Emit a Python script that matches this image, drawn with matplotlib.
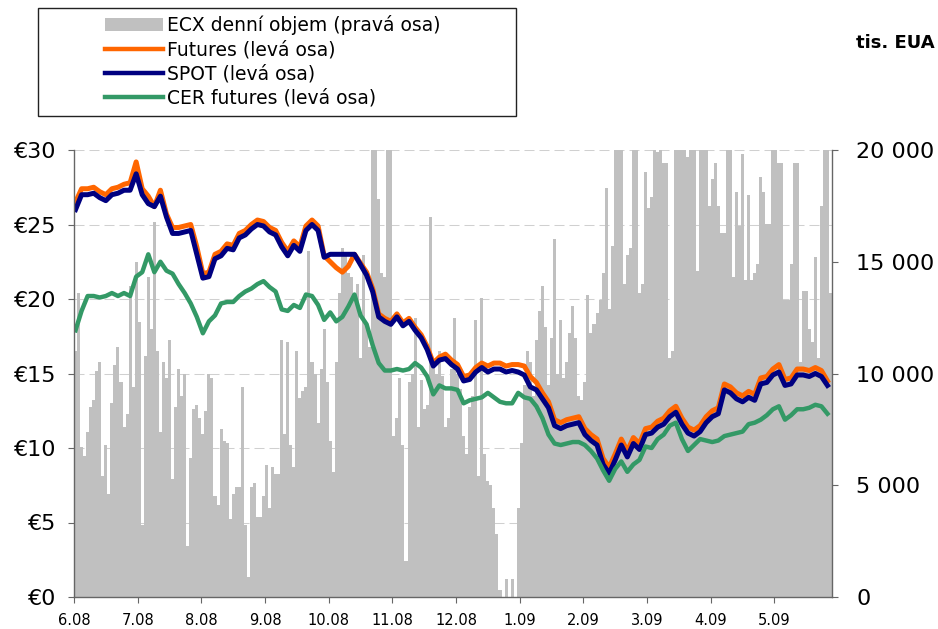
import numpy as np
import matplotlib
matplotlib.use("Agg")
import matplotlib.pyplot as plt
from matplotlib.lines import Line2D
from matplotlib.patches import Patch, Rectangle
from matplotlib.ticker import FuncFormatter

plt.rcParams['font.family'] = ['DejaVu Sans']

# month labels on the category axis (one tick every 21 trading days)
months = ['6.08', '7.08', '8.08', '9.08', '10.08', '11.08', '12.08',
          '1.09', '2.09', '3.09', '4.09', '5.09']

# ECX daily volume, thousands of EUA (right axis), one value per trading day
volume = [11.0, 13.6, 6.7, 6.3, 7.4, 8.5, 8.8, 10.1, 10.5, 5.4,
          6.8, 4.6, 8.7, 10.4, 11.2, 9.6, 7.6, 8.2, 13.9, 9.4,
          15.0, 12.3, 3.2, 10.8, 14.3, 12.0, 16.8, 11.0, 7.4, 10.5,
          9.8, 11.5, 5.3, 8.5, 10.2, 9.0, 10.0, 2.3, 6.2, 8.4,
          8.6, 8.0, 7.3, 8.3, 10.0, 9.8, 4.5, 4.1, 7.5, 7.0,
          6.9, 3.5, 4.6, 4.9, 4.9, 9.4, 3.2, 0.9, 4.9, 5.1,
          3.6, 3.6, 4.5, 5.9, 4.0, 5.8, 5.5, 5.5, 11.5, 7.3,
          11.4, 6.8, 5.8, 11.0, 8.9, 9.2, 9.4, 15.5, 10.5, 10.0,
          7.8, 10.2, 12.0, 9.6, 7.0, 5.6, 10.5, 13.6, 15.6, 15.4,
          14.5, 14.3, 13.6, 14.0, 10.7, 15.3, 12.2, 11.2, 21.0, 21.0,
          17.8, 14.5, 14.3, 21.0, 21.0, 7.2, 8.0, 9.8, 6.8, 1.6,
          9.6, 10.0, 12.5, 7.6, 9.7, 8.4, 8.6, 17.0, 10.5, 10.0,
          11.0, 9.9, 7.6, 8.0, 10.2, 12.5, 10.0, 9.3, 7.2, 6.4,
          8.5, 9.0, 12.4, 5.4, 13.4, 6.4, 5.2, 5.0, 4.0, 2.8,
          0.3, 0.0, 0.8, 0.0, 0.8, 0.0, 4.0, 6.9, 9.5, 11.0,
          10.5, 9.0, 11.5, 12.8, 13.9, 12.1, 9.5, 11.6, 16.0, 10.0,
          12.4, 9.8, 10.5, 11.8, 13.0, 11.6, 9.0, 8.8, 9.6, 13.5,
          11.8, 12.2, 12.7, 13.3, 14.5, 18.3, 12.9, 15.7, 21.0, 21.0,
          21.0, 14.0, 15.3, 15.6, 21.0, 21.0, 13.6, 14.0, 19.0, 17.4,
          17.9, 21.0, 19.9, 21.0, 19.4, 19.4, 10.7, 11.0, 21.0, 21.0,
          21.0, 21.0, 19.7, 21.0, 21.0, 14.6, 21.0, 21.0, 21.0, 17.5,
          18.7, 19.4, 17.5, 16.3, 16.3, 21.0, 21.0, 14.3, 18.1, 16.6,
          19.8, 14.2, 18.0, 14.2, 14.5, 14.9, 18.8, 18.1, 16.7, 16.7,
          21.0, 21.0, 19.4, 19.4, 13.3, 13.3, 14.9, 19.4, 19.4, 10.5,
          13.7, 13.7, 12.0, 11.4, 15.2, 10.7, 17.5, 21.0, 21.0, 13.6]

# prices in EUR (left axis), every second trading day
futures = [26.5, 27.4, 27.4, 27.5, 27.2, 27.0, 27.4, 27.5, 27.7, 27.8,
           29.2, 27.4, 26.9, 26.2, 27.3, 25.7, 24.8, 24.8, 24.9, 25.0,
           23.5, 21.7, 21.8, 23.0, 23.2, 23.7, 23.6, 24.4, 24.6, 25.0,
           25.3, 25.2, 24.8, 24.6, 23.8, 23.2, 23.9, 23.5, 24.9, 25.3,
           24.9, 22.9, 22.5, 22.1, 21.8, 22.2, 23.0, 22.4, 21.8, 20.7,
           19.0, 18.7, 18.5, 19.0, 18.4, 18.7, 18.1, 17.6, 16.8, 15.7,
           16.1, 16.3, 15.9, 15.6, 14.8, 14.9, 15.4, 15.7, 15.5, 15.7,
           15.7, 15.5, 15.6, 15.6, 15.5, 14.8, 14.4, 13.7, 13.1, 11.9,
           11.7, 11.9, 12.0, 12.1, 11.3, 10.9, 10.6, 9.3, 8.7, 9.6,
           10.6, 9.8, 10.7, 10.3, 11.3, 11.4, 11.8, 12.0, 12.5, 12.8,
           12.0, 11.4, 11.2, 11.5, 12.1, 12.5, 12.7, 14.3, 14.1, 13.7,
           13.5, 13.8, 13.6, 14.7, 14.8, 15.3, 15.6, 14.6, 14.7, 15.3,
           15.3, 15.2, 15.4, 15.2, 14.5]

spot = [26.0, 27.0, 27.0, 27.1, 26.8, 26.6, 27.0, 27.1, 27.3, 27.3,
        28.4, 27.0, 26.4, 26.2, 26.9, 25.5, 24.4, 24.4, 24.5, 24.6,
        23.0, 21.4, 21.5, 22.7, 22.9, 23.4, 23.3, 24.1, 24.3, 24.7,
        25.0, 24.9, 24.5, 24.3, 23.5, 22.9, 23.6, 23.2, 24.6, 25.0,
        24.6, 22.8, 23.0, 23.0, 23.0, 23.0, 23.0, 22.3, 21.6, 20.5,
        18.8, 18.5, 18.3, 18.8, 18.2, 18.5, 17.9, 17.4, 16.6, 15.5,
        15.9, 16.0, 15.6, 15.3, 14.5, 14.6, 15.1, 15.4, 15.1, 15.3,
        15.3, 15.1, 15.2, 15.1, 14.9, 14.1, 13.9, 13.3, 12.7, 11.5,
        11.3, 11.5, 11.6, 11.7, 10.9, 10.5, 10.2, 8.9, 8.3, 9.2,
        10.2, 9.4, 10.3, 9.9, 10.9, 11.0, 11.4, 11.6, 12.1, 12.4,
        11.6, 11.0, 10.8, 11.1, 11.7, 12.1, 12.3, 13.9, 13.7, 13.3,
        13.1, 13.4, 13.2, 14.3, 14.4, 14.9, 15.1, 14.2, 14.3, 14.9,
        14.9, 14.8, 15.0, 14.8, 14.2]

cer = [17.9, 19.2, 20.2, 20.2, 20.1, 20.2, 20.4, 20.2, 20.4, 20.2,
       21.5, 21.8, 23.0, 21.8, 22.5, 21.9, 21.7, 21.0, 20.4, 19.7,
       18.8, 17.7, 18.5, 18.9, 19.7, 19.8, 19.8, 20.2, 20.5, 20.7,
       21.0, 21.2, 20.8, 20.5, 19.3, 19.2, 19.6, 19.4, 20.3, 20.2,
       19.6, 18.6, 19.1, 18.5, 18.8, 19.5, 20.3, 18.9, 18.3, 16.9,
       15.7, 15.2, 15.2, 15.3, 15.2, 15.3, 15.7, 15.4, 14.8, 13.6,
       14.2, 14.0, 14.0, 13.9, 13.0, 13.2, 13.3, 13.4, 13.7, 13.4,
       13.1, 13.0, 13.0, 13.7, 13.4, 13.3, 12.8, 12.0, 10.9, 10.3,
       10.2, 10.3, 10.4, 10.4, 10.2, 9.8, 9.3, 8.5, 7.8, 8.6,
       9.1, 8.4, 8.9, 9.2, 10.1, 10.0, 10.6, 10.9, 11.5, 11.7,
       10.6, 9.8, 10.2, 10.6, 10.5, 10.4, 10.5, 10.8, 10.9, 11.0,
       11.1, 11.6, 11.7, 11.9, 12.2, 12.6, 12.8, 11.9, 12.2, 12.6,
       12.6, 12.7, 12.9, 12.8, 12.3]

days = np.arange(len(volume)) + 0.5
line_days = days[::2]

fig = plt.figure(figsize=(9.38, 6.29), dpi=100)
ax = fig.add_axes([74 / 938, 32 / 629, 758 / 938, 447 / 629])
ax_bar = ax.twinx()
ax_line = ax.twinx()

ax.set_xlim(0, len(volume))
ax.set_ylim(0, 30)
ax_bar.set_ylim(0, 20)
ax_line.set_ylim(0, 30)

ax_bar.bar(days, volume, width=1.0, color='#c0c0c0', linewidth=0)
ax_line.plot(line_days, futures, color='#ff6600', lw=3.6, solid_joinstyle='round')
ax_line.plot(line_days, spot, color='#000080', lw=3.6, solid_joinstyle='round')
ax_line.plot(line_days, cer, color='#339966', lw=3.2, solid_joinstyle='round')

# left axis: grid + euro ticks
ax.set_axisbelow(True)
ax.set_yticks(range(0, 31, 5))
ax.yaxis.set_major_formatter(FuncFormatter(lambda v, p: f"€{v:.0f}"))
ax.yaxis.grid(True, linestyle=(0, (9.6, 4.8)), linewidth=0.75, color='#d0d0d0')
ax.tick_params(axis='y', direction='out', length=4.5, width=0.8, color='#666666',
               labelsize=16, pad=8)
ax.set_xticks(np.arange(0, len(volume), 21))
ax.set_xticklabels(months)
ax.tick_params(axis='x', direction='out', length=4.5, width=0.8, color='#666666',
               labelsize=10.5, pad=7)

# right axis: volume ticks
ax_bar.set_yticks(range(0, 21, 5))
ax_bar.yaxis.set_major_formatter(
    FuncFormatter(lambda v, p: f"{int(round(v * 1000)):,}".replace(",", " ")))
ax_bar.tick_params(axis='y', direction='out', length=4.5, width=0.8, color='#666666',
                   labelsize=16, pad=13)
ax_line.set_yticks([])

for a in (ax, ax_bar):
    for s in a.spines.values():
        s.set_visible(False)
ax_line.spines['top'].set_visible(False)
for side in ('left', 'right', 'bottom'):
    ax_line.spines[side].set_color('#666666')
    ax_line.spines[side].set_linewidth(1.0)

# legend with its own frame
handles = [Patch(facecolor='#c0c0c0', edgecolor='none'),
           Line2D([], [], color='#ff6600', lw=3.2),
           Line2D([], [], color='#000080', lw=3.2),
           Line2D([], [], color='#339966', lw=3.2)]
labels = ['ECX denní objem (pravá osa)', 'Futures (levá osa)',
          'SPOT (levá osa)', 'CER futures (levá osa)']
fig.legend(handles, labels, loc='upper left', bbox_to_anchor=(105 / 938, 1 - 15 / 629),
           frameon=False, fontsize=13.5, handlelength=3.1, handleheight=0.75,
           handletextpad=0.2, labelspacing=0.28, borderpad=0, borderaxespad=0)
fig.add_artist(Rectangle((38 / 938, 1 - 116 / 629), 478 / 938, 108 / 629,
                         transform=fig.transFigure, fill=False,
                         edgecolor='#222222', linewidth=1.0))

fig.text(935 / 938, 1 - 43 / 629, 'tis. EUA', ha='right', va='center',
         fontsize=13, fontweight='bold')

fig.savefig('out.png', dpi=100)
